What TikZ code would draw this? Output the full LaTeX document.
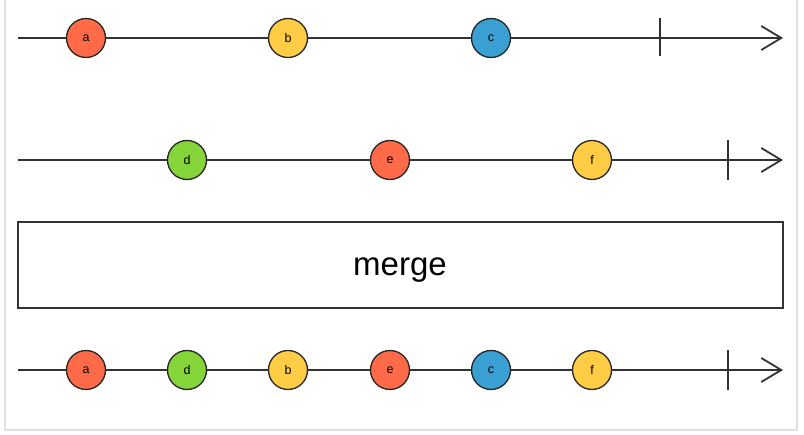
\documentclass[tikz,border=0pt]{standalone}
\usepackage{fontspec}
\setmainfont{Liberation Sans}
\usetikzlibrary{arrows.meta}
\definecolor{cred}{HTML}{FF6A48}
\definecolor{cyel}{HTML}{FFCC45}
\definecolor{cblue}{HTML}{3A9FD2}
\definecolor{cgreen}{HTML}{84D43A}
\definecolor{lineg}{HTML}{333333}
\tikzset{
  marble/.style={circle, draw=black!85, line width=1.3pt, minimum size=39pt, inner sep=0pt, font=\fontsize{12.5}{12.5}\selectfont},
  timeline/.style={draw=lineg, line width=1.8pt, -{Straight Barb[length=20pt,width=24pt,line width=1.8pt]}},
  tickmark/.style={draw=lineg, line width=1.8pt},
}
\begin{document}
\begin{tikzpicture}[x=1pt,y=-1pt]
\useasboundingbox (0,0) rectangle (804,435);
\fill[white] (0,0) rectangle (804,435);
\draw[black!12, line width=1.5pt] (5,-5) rectangle (797,430);
% line 1
\coordinate (s1) at (18,38);
\coordinate (t1) at (783,38);
\node[marble, fill=cred] (a1) at (86,38) {a};
\node[marble, fill=cyel] (b1) at (288,38) {b};
\node[marble, fill=cblue] (c1) at (491,38) {c};
\coordinate (k1a) at (660,18);
\coordinate (k1b) at (660,56);
\draw[timeline] (s1) -- (a1) -- (b1) -- (c1) -- (t1);
\draw[tickmark] (k1a) -- (k1b);
% line 2
\coordinate (s2) at (18,160);
\coordinate (t2) at (783,160);
\node[marble, fill=cgreen] (d2) at (187,160) {d};
\node[marble, fill=cred] (e2) at (390,160) {e};
\node[marble, fill=cyel] (f2) at (592,160) {f};
\coordinate (k2a) at (728,140);
\coordinate (k2b) at (728,180);
\draw[timeline] (s2) -- (d2) -- (e2) -- (f2) -- (t2);
\draw[tickmark] (k2a) -- (k2b);
% merge box
\node[draw=lineg, line width=1.6pt, minimum width=765pt, minimum height=86pt, inner sep=0pt] (m) at (400.5,265) {};
\node[anchor=base, inner sep=0pt, font=\fontsize{33}{33}\selectfont] (mt) at (400,276) {merge};
% line 3
\coordinate (s3) at (18,370);
\coordinate (t3) at (783,370);
\node[marble, fill=cred] (a3) at (86,370) {a};
\node[marble, fill=cgreen] (d3) at (187,370) {d};
\node[marble, fill=cyel] (b3) at (288,370) {b};
\node[marble, fill=cred] (e3) at (390,370) {e};
\node[marble, fill=cblue] (c3) at (491,370) {c};
\node[marble, fill=cyel] (f3) at (592,370) {f};
\coordinate (k3a) at (728,350);
\coordinate (k3b) at (728,390);
\draw[timeline] (s3) -- (a3) -- (d3) -- (b3) -- (e3) -- (c3) -- (f3) -- (t3);
\draw[tickmark] (k3a) -- (k3b);
\end{tikzpicture}
\end{document}
